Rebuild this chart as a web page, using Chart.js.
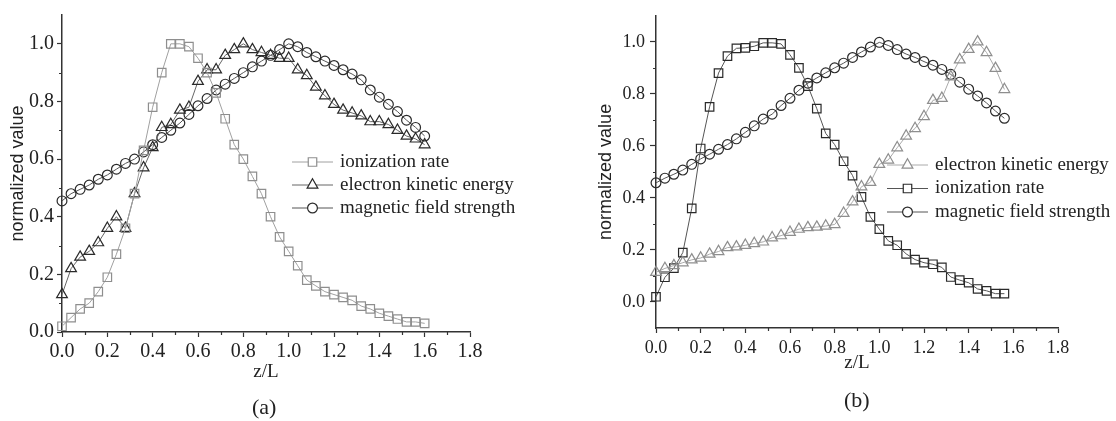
<!DOCTYPE html>
<html>
<head>
<meta charset="utf-8">
<script src="https://cdn.jsdelivr.net/npm/chart.js@4.4.1/dist/chart.umd.min.js"></script>
<style>
  html, body { margin: 0; padding: 0; background: #fff; }
  #wrap { position: relative; width: 1116px; height: 421px; }
  .panel { position: absolute; top: 0; height: 421px; }
  #panelA { left: 0; width: 556px; }
  #panelB { left: 588px; width: 528px; }
  .caption { position: absolute; font-family: "Liberation Serif", serif; font-size: 22px; line-height: 1; color: #222; }
</style>
</head>
<body>
<div id="wrap">
  <div class="panel" id="panelA"><canvas id="chartA"></canvas></div>
  <div class="panel" id="panelB"><canvas id="chartB"></canvas></div>
  <div class="caption" style="left:252px; top:396px;">(a)</div>
  <div class="caption" style="left:844px; top:389px;">(b)</div>
</div>
<script>
// Ticks
const xTicks = [0, 0.2, 0.4, 0.6, 0.8, 1.0, 1.2, 1.4, 1.6, 1.8];
const xMinor = [0.1, 0.3, 0.5, 0.7, 0.9, 1.1, 1.3, 1.5, 1.7];
const yTicks = [0, 0.2, 0.4, 0.6, 0.8, 1.0];
const yMinor = [0.1, 0.3, 0.5, 0.7, 0.9];

// Panel (a)
const zA = [0, 0.04, 0.08, 0.12, 0.16, 0.20, 0.24, 0.28, 0.32, 0.36, 0.40, 0.44, 0.48, 0.52, 0.56, 0.60, 0.64, 0.68, 0.72, 0.76,
  0.80, 0.84, 0.88, 0.92, 0.96, 1.00, 1.04, 1.08, 1.12, 1.16, 1.20, 1.24, 1.28, 1.32, 1.36, 1.40, 1.44, 1.48, 1.52, 1.56, 1.60];
const ionA = [0.02, 0.05, 0.08, 0.10, 0.14, 0.19, 0.27, 0.36, 0.48, 0.63, 0.78, 0.90, 1.00, 1.00, 0.99, 0.95, 0.90, 0.83, 0.74, 0.65,
  0.60, 0.54, 0.48, 0.40, 0.33, 0.28, 0.23, 0.18, 0.16, 0.14, 0.13, 0.12, 0.11, 0.09, 0.08, 0.065, 0.055, 0.045, 0.035, 0.035, 0.03];
const eleA = [0.13, 0.22, 0.26, 0.28, 0.31, 0.36, 0.40, 0.36, 0.48, 0.57, 0.64, 0.71, 0.72, 0.77, 0.78, 0.87, 0.91, 0.91, 0.96, 0.98,
  1.00, 0.98, 0.97, 0.96, 0.95, 0.95, 0.91, 0.89, 0.85, 0.82, 0.79, 0.77, 0.76, 0.75, 0.73, 0.73, 0.72, 0.70, 0.68, 0.67, 0.65];
const magA = [0.455, 0.48, 0.495, 0.51, 0.53, 0.545, 0.565, 0.585, 0.60, 0.625, 0.65, 0.675, 0.70, 0.725, 0.755, 0.785, 0.81, 0.84, 0.86, 0.88,
  0.90, 0.92, 0.94, 0.96, 0.98, 1.00, 0.99, 0.97, 0.955, 0.94, 0.925, 0.91, 0.895, 0.875, 0.84, 0.815, 0.79, 0.765, 0.735, 0.71, 0.68];

// Panel (b)
const zB = [0, 0.04, 0.08, 0.12, 0.16, 0.20, 0.24, 0.28, 0.32, 0.36, 0.40, 0.44, 0.48, 0.52, 0.56, 0.60, 0.64, 0.68, 0.72, 0.76,
  0.80, 0.84, 0.88, 0.92, 0.96, 1.00, 1.04, 1.08, 1.12, 1.16, 1.20, 1.24, 1.28, 1.32, 1.36, 1.40, 1.44, 1.48, 1.52, 1.56];
const eleB = [0.114, 0.129, 0.14, 0.151, 0.162, 0.169, 0.184, 0.194, 0.209, 0.212, 0.218, 0.225, 0.231, 0.247, 0.255, 0.268, 0.28, 0.286, 0.288, 0.292,
  0.298, 0.341, 0.385, 0.443, 0.46, 0.529, 0.546, 0.593, 0.638, 0.667, 0.713, 0.775, 0.783, 0.866, 0.931, 0.971, 1.0, 0.959, 0.898, 0.817];
const ionB = [0.02, 0.095, 0.13, 0.19, 0.36, 0.59, 0.75, 0.88, 0.945, 0.975, 0.977, 0.983, 0.996, 0.996, 0.992, 0.95, 0.90, 0.83, 0.743, 0.648,
  0.605, 0.541, 0.486, 0.404, 0.327, 0.28, 0.235, 0.218, 0.185, 0.163, 0.151, 0.145, 0.133, 0.096, 0.084, 0.074, 0.05, 0.043, 0.032, 0.032];
const magB = [0.458, 0.476, 0.491, 0.507, 0.529, 0.55, 0.568, 0.587, 0.605, 0.627, 0.652, 0.677, 0.703, 0.722, 0.755, 0.783, 0.814, 0.841, 0.861, 0.881,
  0.9, 0.918, 0.94, 0.961, 0.98, 0.998, 0.986, 0.97, 0.953, 0.94, 0.924, 0.91, 0.894, 0.875, 0.845, 0.818, 0.792, 0.765, 0.734, 0.706];

const SERIF = '"Liberation Serif", "Times New Roman", serif';
const SANS = '"Liberation Sans", Arial, sans-serif';
const GRAY = '#8e8e8e';
const DARK = '#2a2a2a';

function serie(label, zs, vals, style, pointColor, lineColor, radius) {
  return {
    label: label,
    data: zs.map((z, i) => ({ x: z, y: vals[i] })),
    showLine: true,
    borderColor: lineColor,
    borderWidth: 1,
    pointStyle: style,
    pointRadius: radius,
    pointBorderColor: pointColor,
    pointBackgroundColor: 'rgba(255,255,255,0)',
    pointBorderWidth: 1.2,
    clip: false
  };
}

// minor ticks drawn through the chart's scales
const ticksMenores = {
  id: 'ticksMenores',
  afterDraw(chart) {
    const ctx = chart.ctx;
    const sx = chart.scales.x, sy = chart.scales.y;
    const area = chart.chartArea;
    ctx.save();
    ctx.strokeStyle = '#333';
    ctx.lineWidth = 1.2;
    ctx.beginPath();
    xMinor.forEach(v => {
      const px = Math.round(sx.getPixelForValue(v)) + 0.5;
      ctx.moveTo(px, area.bottom);
      ctx.lineTo(px, area.bottom + 3);
    });
    yMinor.forEach(v => {
      const py = Math.round(sy.getPixelForValue(v)) + 0.5;
      ctx.moveTo(area.left, py);
      ctx.lineTo(area.left - 3, py);
    });
    ctx.stroke();
    ctx.restore();
  }
};

// legend drawn inside the plot
const leyenda = {
  id: 'leyenda',
  afterDraw(chart, args, opts) {
    const ctx = chart.ctx;
    chart.data.datasets.forEach((ds, i) => {
      const yy = opts.y + i * opts.gap;
      ctx.save();
      ctx.strokeStyle = ds.borderColor;
      ctx.lineWidth = 1;
      ctx.beginPath();
      ctx.moveTo(opts.x, yy);
      ctx.lineTo(opts.x + opts.largo, yy);
      ctx.stroke();
      ctx.strokeStyle = ds.pointBorderColor;
      ctx.fillStyle = '#fff';
      ctx.lineWidth = ds.pointBorderWidth;
      Chart.helpers.drawPoint(ctx, { pointStyle: ds.pointStyle, radius: ds.pointRadius, borderWidth: ds.pointBorderWidth, rotation: 0 },
        opts.x + opts.largo / 2, yy);
      ctx.fillStyle = '#222';
      ctx.font = '19px ' + SERIF;
      ctx.textBaseline = 'middle';
      ctx.fillText(ds.label, opts.x + opts.largo + 7, yy);
      ctx.restore();
    });
  }
};

function opciones(cfg) {
  return {
    responsive: true,
    maintainAspectRatio: false,
    animation: false,
    layout: { padding: { top: 3, left: 0, right: cfg.padRight, bottom: 0 } },
    plugins: {
      legend: { display: false },
      tooltip: { enabled: false },
      leyenda: cfg.leyenda
    },
    scales: {
      x: {
        type: 'linear',
        min: 0,
        max: 1.8,
        afterBuildTicks: s => { s.ticks = xTicks.map(v => ({ value: v })); },
        afterFit: s => { s.height = cfg.xHeight; },
        border: { color: '#333', width: 1.5 },
        grid: { drawOnChartArea: false, drawTicks: true, tickLength: 5, tickColor: '#333', tickWidth: 1.2 },
        ticks: { color: '#222', font: { family: SERIF, size: cfg.tickSize }, padding: cfg.xPad, maxRotation: 0, callback: v => v.toFixed(1) },
        title: { display: true, text: 'z/L', color: '#222', font: { family: SERIF, size: 19 }, padding: { top: 0, bottom: cfg.xTitlePad } }
      },
      y: {
        type: 'linear',
        min: cfg.yMin,
        max: 1.1,
        afterBuildTicks: s => { s.ticks = yTicks.map(v => ({ value: v })); },
        afterFit: s => { s.width = cfg.yWidth; },
        border: { color: '#333', width: 1.5 },
        grid: { drawOnChartArea: false, drawTicks: true, tickLength: cfg.yTick, tickColor: '#333', tickWidth: 1.2 },
        ticks: { color: '#222', font: { family: SERIF, size: cfg.tickSize }, padding: cfg.yPad, callback: v => v.toFixed(1) },
        title: { display: true, text: 'normalized value', color: '#222', font: { family: SANS, size: 18 }, padding: { top: 7, bottom: 0 } }
      }
    }
  };
}

window.addEventListener('DOMContentLoaded', () => {
  new Chart(document.getElementById('chartA'), {
    type: 'scatter',
    data: {
      datasets: [
        serie('ionization rate', zA, ionA, 'rect', GRAY, '#a0a0a0', 6),
        serie('electron kinetic energy', zA, eleA, 'triangle', DARK, '#666', 6.2),
        serie('magnetic field strength', zA, magA, 'circle', DARK, '#555', 4.9)
      ]
    },
    options: opciones({ padRight: 86, xHeight: 89, xTitlePad: 37.6, yMin: 0, yWidth: 62, yTick: 5, yPad: 3, tickSize: 20, xPad: 3,
      leyenda: { x: 292, y: 162, gap: 23, largo: 41 } }),
    plugins: [ticksMenores, leyenda]
  });

  new Chart(document.getElementById('chartB'), {
    type: 'scatter',
    data: {
      datasets: [
        serie('electron kinetic energy', zB, eleB, 'triangle', GRAY, '#aaa', 6.2),
        serie('ionization rate', zB, ionB, 'rect', DARK, '#555', 6),
        serie('magnetic field strength', zB, magB, 'circle', DARK, '#555', 4.9)
      ]
    },
    options: opciones({ padRight: 58, xHeight: 93, xTitlePad: 46.6, yMin: -0.1, yWidth: 68, yTick: 6, yPad: 5, tickSize: 18, xPad: 4,
      leyenda: { x: 299, y: 165, gap: 23.5, largo: 41 } }),
    plugins: [ticksMenores, leyenda]
  });
});
</script>
</body>
</html>
